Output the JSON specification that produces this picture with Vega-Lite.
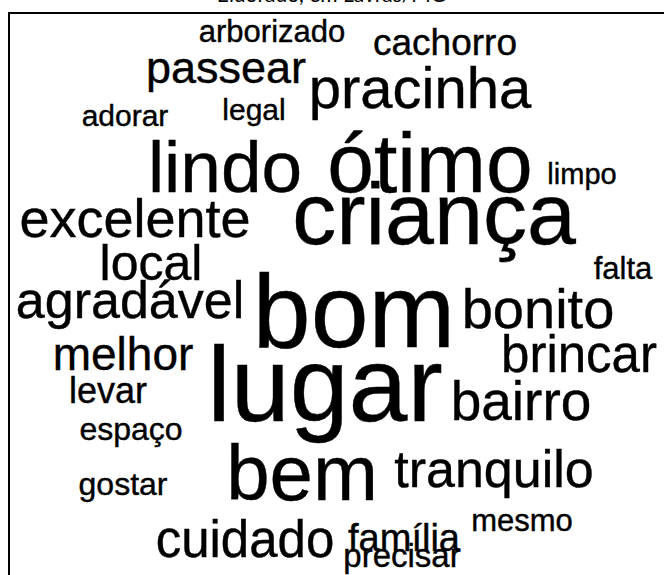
{
  "$schema": "https://vega.github.io/schema/vega-lite/v6.json",
  "width": 665,
  "height": 572,
  "autosize": {"type": "none"},
  "padding": {"left": 9, "top": 13, "right": -10, "bottom": -10},
  "background": "white",
  "title": {"text": "Eldorado, em Lavras/MG", "font": "Lato", "fontSize": 21, "fontWeight": "normal", "color": "black", "anchor": "middle", "offset": -10, "dx": -10, "baseline": "alphabetic"},
  "config": {"view": {"stroke": "black", "strokeWidth": 2}},
  "data": {"values": [
    {"word": "arborizado", "x": 272, "y": 42, "freq": 31},
    {"word": "cachorro", "x": 445, "y": 55, "freq": 37},
    {"word": "passear", "x": 226, "y": 83, "freq": 45},
    {"word": "pracinha", "x": 420, "y": 108, "freq": 58},
    {"word": "adorar", "x": 125, "y": 126, "freq": 30},
    {"word": "legal", "x": 254, "y": 120, "freq": 30},
    {"word": "lindo", "x": 225, "y": 192, "freq": 73},
    {"word": "ótimo", "x": 430, "y": 192, "freq": 84},
    {"word": "limpo", "x": 582, "y": 184, "freq": 29},
    {"word": "excelente", "x": 135, "y": 237, "freq": 54},
    {"word": "criança", "x": 434, "y": 244, "freq": 88},
    {"word": "local", "x": 151, "y": 280, "freq": 50},
    {"word": "falta", "x": 623, "y": 279, "freq": 31},
    {"word": "agradável", "x": 130, "y": 318, "freq": 52},
    {"word": "bom", "x": 354, "y": 347, "freq": 104},
    {"word": "bonito", "x": 538, "y": 328, "freq": 56},
    {"word": "melhor", "x": 123, "y": 370, "freq": 46},
    {"word": "brincar", "x": 579, "y": 372, "freq": 51},
    {"word": "lugar", "x": 325, "y": 421, "freq": 106},
    {"word": "levar", "x": 108, "y": 403, "freq": 36},
    {"word": "bairro", "x": 521, "y": 420, "freq": 55},
    {"word": "espaço", "x": 131, "y": 440, "freq": 32},
    {"word": "bem", "x": 302, "y": 500, "freq": 78},
    {"word": "tranquilo", "x": 494, "y": 487, "freq": 52},
    {"word": "gostar", "x": 123, "y": 495, "freq": 32},
    {"word": "cuidado", "x": 245, "y": 557, "freq": 51},
    {"word": "família", "x": 404, "y": 551, "freq": 38},
    {"word": "mesmo", "x": 522, "y": 531, "freq": 31},
    {"word": "precisar", "x": 402, "y": 567, "freq": 33}
  ]},
  "mark": {"type": "text", "font": "Liberation Sans", "align": "center", "baseline": "alphabetic", "color": "black", "stroke": "black", "strokeWidth": 0.4},
  "encoding": {
    "x": {"field": "x", "type": "quantitative", "scale": {"domain": [9, 674], "nice": false, "zero": false}, "axis": null},
    "y": {"field": "y", "type": "quantitative", "scale": {"domain": [13, 585], "reverse": true, "nice": false, "zero": false}, "axis": null},
    "size": {"field": "freq", "type": "quantitative", "scale": {"domain": [0, 110], "range": [0, 110]}, "legend": null},
    "text": {"field": "word", "type": "nominal"}
  }
}
